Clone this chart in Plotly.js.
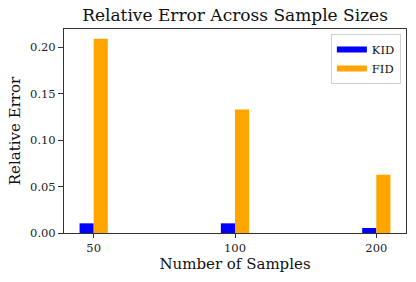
<!DOCTYPE html>
<html>
<head>
<meta charset="utf-8">
<script src="https://cdn.plot.ly/plotly-3.0.1.min.js"></script>
<style>html,body{margin:0;padding:0;background:#fff;}#chart{width:416px;height:282px;}</style>
</head>
<body>
<div id="chart"></div>
<script>
var categories = ["50", "100", "200"];
var kidValues = [0.0104, 0.0104, 0.0054];
var fidValues = [0.209, 0.133, 0.0627];
var yTickVals = [0, 0.05, 0.10, 0.15, 0.20];
var yTickText = ["0.00", "0.05", "0.10", "0.15", "0.20"];
var seriesNames = ["KID", "FID"];
var seriesColors = ["#0000ff", "#ffa500"];

var font = "DejaVu Serif, serif";
var seriesValues = [kidValues, fidValues];
var traces = [];
seriesNames.forEach(function (name, i) {
  traces.push({type: "bar", name: name, x: categories, y: seriesValues[i],
               marker: {color: seriesColors[i]}, legendgroup: name, showlegend: false});
});
// legend entries drawn as wide patches (matplotlib style)
seriesNames.forEach(function (name, i) {
  traces.push({type: "scatter", mode: "lines", name: name, x: [categories[0]], y: [null],
               line: {color: seriesColors[i], width: 6}, legendgroup: name, showlegend: true,
               hoverinfo: "skip"});
});

var layout = {
  width: 416, height: 282,
  margin: {l: 64, r: 10, t: 29, b: 49},
  paper_bgcolor: "#fff", plot_bgcolor: "#fff",
  font: {family: font, color: "#222", size: 11.5},
  barmode: "group", bargap: 0.8, bargroupgap: 0,
  showlegend: true,
  title: {text: "Relative Error Across Sample Sizes", font: {family: font, size: 17, color: "#111"},
          x: 0.565, xanchor: "center", y: 0.947, yanchor: "middle"},
  xaxis: {
    type: "category", range: [-0.21, 2.21],
    title: {text: "Number of Samples", font: {family: font, size: 15, color: "#111"}, standoff: 3},
    showline: true, linecolor: "#333", linewidth: 1, mirror: true,
    ticks: "outside", ticklen: 4, tickcolor: "#333", tickwidth: 1,
    showgrid: false, zeroline: false, tickfont: {family: font, size: 11.5, color: "#222"}
  },
  yaxis: {
    range: [0, 0.2195],
    tickvals: yTickVals, ticktext: yTickText,
    title: {text: "Relative Error", font: {family: font, size: 15, color: "#111"}, standoff: 5},
    showline: true, linecolor: "#333", linewidth: 1, mirror: true,
    ticks: "outside", ticklen: 5, tickcolor: "#333", tickwidth: 1,
    showgrid: false, zeroline: false, tickfont: {family: font, size: 11.5, color: "#222"}
  },
  legend: {x: 0.985, xanchor: "right", y: 0.975, yanchor: "top",
           bordercolor: "#d0d0d0", borderwidth: 1, bgcolor: "rgba(255,255,255,0.8)",
           font: {family: font, size: 11.5, color: "#111"}, tracegroupgap: 0, itemwidth: 30}
};
Plotly.newPlot("chart", traces, layout, {displayModeBar: false, staticPlot: true});
</script>
</body>
</html>
